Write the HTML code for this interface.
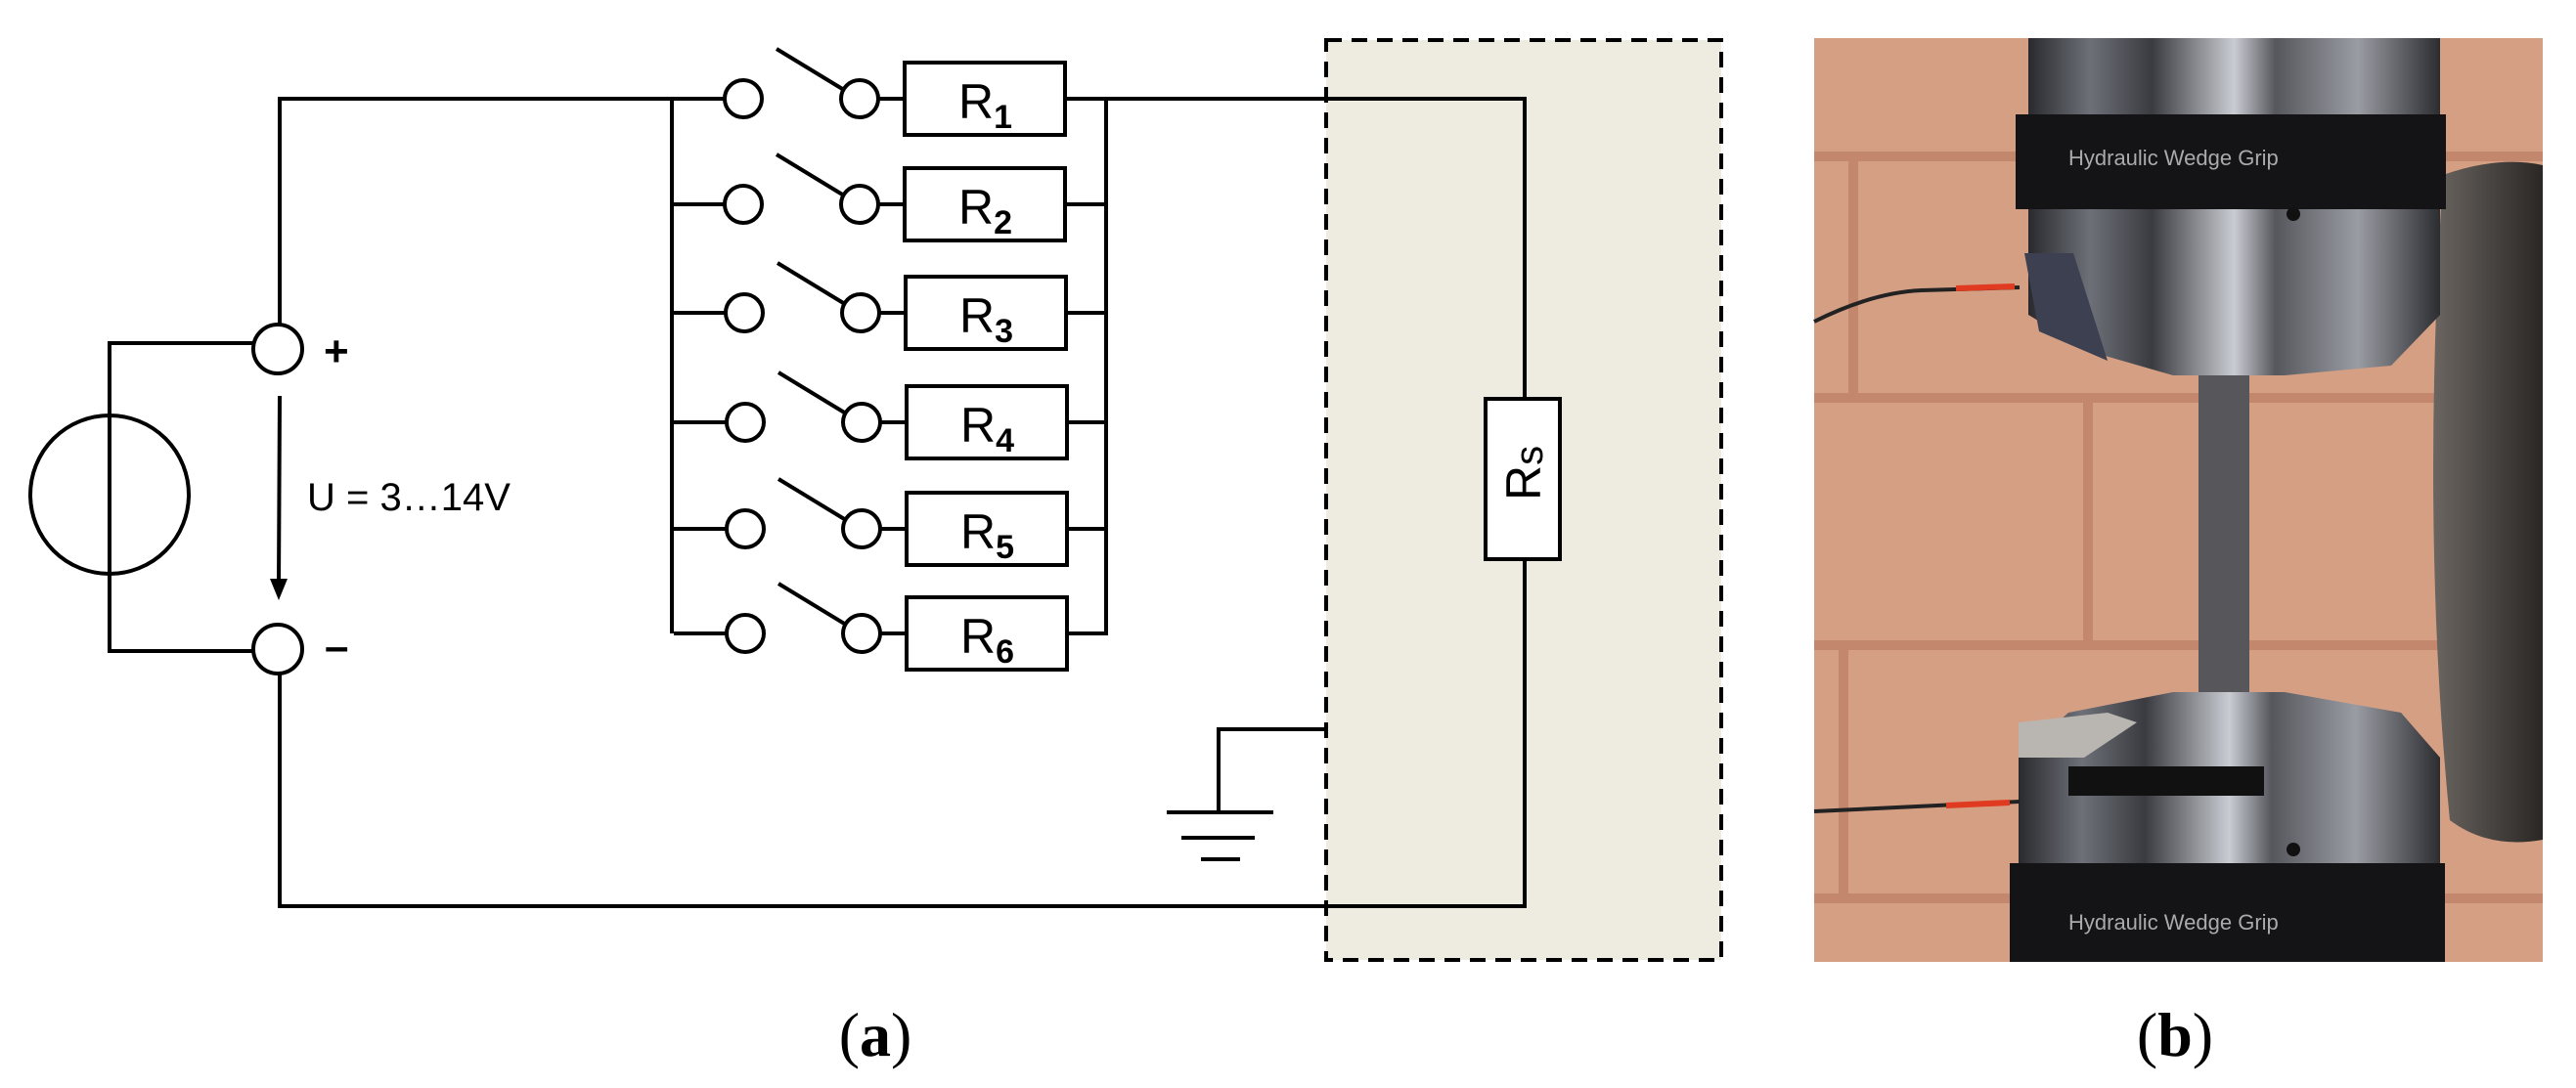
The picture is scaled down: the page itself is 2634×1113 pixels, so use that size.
<!DOCTYPE html>
<html><head><meta charset="utf-8"><style>
html,body{margin:0;padding:0;background:#fff;}
svg{display:block;}
</style></head><body>
<svg width="2634" height="1113" viewBox="0 0 2634 1113" xmlns="http://www.w3.org/2000/svg">
<defs>
<linearGradient id="metal" x1="0" x2="1" y1="0" y2="0">
<stop offset="0" stop-color="#2a2a2e"/><stop offset="0.15" stop-color="#6d7078"/><stop offset="0.3" stop-color="#3a3b40"/><stop offset="0.5" stop-color="#c9ccd2"/><stop offset="0.6" stop-color="#55575d"/><stop offset="0.8" stop-color="#9a9ca3"/><stop offset="1" stop-color="#2c2d31"/>
</linearGradient>
<linearGradient id="blob" x1="0" x2="1"><stop offset="0" stop-color="#6a6560"/><stop offset="0.5" stop-color="#4a4643"/><stop offset="1" stop-color="#2a2725"/></linearGradient>
<g id="row">
<line x1="687" y1="0" x2="741" y2="0"/>
<circle cx="760" cy="0" r="19"/>
<line x1="794" y1="-51" x2="863" y2="-9"/>
<circle cx="879" cy="0" r="19"/>
<line x1="898" y1="0" x2="925" y2="0"/>
<rect x="925" y="-37" width="164" height="74"/>
<line x1="1089" y1="0" x2="1131" y2="0"/>
</g>
</defs>
<g stroke="#000" stroke-width="4" fill="none">
<rect x="1356" y="41" width="404" height="941" fill="#eeebe1" stroke-dasharray="16,10"/>
<circle cx="112" cy="506" r="81" fill="#fff"/>
<polyline points="284,351 112,351 112,666 284,666"/>
<polyline points="286,332 286,101 687,101"/>
<line x1="687" y1="101" x2="687" y2="648"/>
<polyline points="286,689 286,927 1559,927 1559,572"/>
<polyline points="1089,101 1559,101 1559,408"/>
<rect x="1519" y="408" width="76" height="164" fill="#fff"/>
<line x1="1131" y1="101" x2="1131" y2="648"/>
<polyline points="1356,746 1246,746 1246,831"/>
<line x1="1193" y1="831" x2="1302" y2="831"/>
<line x1="1208" y1="857" x2="1283" y2="857"/>
<line x1="1228" y1="879" x2="1268" y2="879"/>
<line x1="286" y1="405" x2="285" y2="600"/>
</g>
<polygon points="276,592 294,592 285,614" fill="#000"/>
<circle cx="284" cy="357" r="25" fill="#fff" stroke="#000" stroke-width="4"/>
<circle cx="284" cy="664" r="25" fill="#fff" stroke="#000" stroke-width="4"/>
<g stroke="#000" stroke-width="4" fill="#fff">
<use href="#row" transform="translate(0,101)"/>
<use href="#row" transform="translate(0,209)"/>
<use href="#row" transform="translate(1,320)"/>
<use href="#row" transform="translate(2,432)"/>
<use href="#row" transform="translate(2,541)"/>
<use href="#row" transform="translate(2,648)"/>
</g>
<g font-family="Liberation Sans, sans-serif" font-size="50" fill="#000">
<text x="980" y="121">R<tspan font-size="34" font-weight="bold" dy="10">1</tspan></text>
<text x="980" y="229">R<tspan font-size="34" font-weight="bold" dy="10">2</tspan></text>
<text x="981" y="340">R<tspan font-size="34" font-weight="bold" dy="10">3</tspan></text>
<text x="982" y="452">R<tspan font-size="34" font-weight="bold" dy="10">4</tspan></text>
<text x="982" y="561">R<tspan font-size="34" font-weight="bold" dy="10">5</tspan></text>
<text x="982" y="668">R<tspan font-size="34" font-weight="bold" dy="10">6</tspan></text>
<text transform="translate(1575,512) rotate(-90)">R<tspan font-size="40" dy="2">s</tspan></text>
<text x="314" y="522" font-size="40">U = 3…14V</text>
<text x="331" y="374" font-size="44" font-weight="bold">+</text>
<text x="332" y="676" font-size="44" font-weight="bold">–</text>
</g>
<g font-family="Liberation Serif, serif" font-size="64" fill="#000" text-anchor="middle">
<text x="895" y="1080">(<tspan font-weight="bold">a</tspan>)</text>
<text x="2224" y="1080">(<tspan font-weight="bold">b</tspan>)</text>
</g>
<g transform="translate(1855,39)">
<rect x="0" y="0" width="745" height="945" fill="#d59f84"/>
<g stroke="#c3876d" stroke-width="10">
<line x1="0" y1="121" x2="745" y2="121"/><line x1="0" y1="368" x2="745" y2="368"/>
<line x1="0" y1="621" x2="745" y2="621"/><line x1="0" y1="880" x2="745" y2="880"/>
<line x1="40" y1="121" x2="40" y2="368"/><line x1="280" y1="368" x2="280" y2="621"/>
<line x1="30" y1="621" x2="30" y2="880"/><line x1="660" y1="368" x2="660" y2="621"/>
</g>
<path d="M643,140 Q700,120 745,130 L745,820 Q690,830 650,800 Q620,500 643,140Z" fill="url(#blob)"/>
<rect x="219" y="0" width="421" height="283" fill="url(#metal)"/>
<rect x="206" y="78" width="440" height="97" fill="#141416"/>
<text x="260" y="130" font-family="Liberation Sans, sans-serif" font-size="22" fill="#aaa">Hydraulic Wedge Grip</text>
<path d="M219,283 L640,283 L590,335 L481,345 L367,345 L280,320Z" fill="url(#metal)"/>
<path d="M215,220 L265,220 L300,330 L230,300Z" fill="#3c4050"/>
<rect x="393" y="345" width="52" height="324" fill="#57565a"/>
<path d="M367,669 L481,669 L600,690 L640,736 L209,736 L260,690Z" fill="url(#metal)"/>
<path d="M209,700 L300,690 L330,700 L240,760 L209,760Z" fill="#b9b6b1"/>
<rect x="209" y="736" width="431" height="209" fill="url(#metal)"/>
<rect x="260" y="745" width="200" height="30" fill="#111"/>
<rect x="200" y="844" width="445" height="101" fill="#141416"/>
<text x="260" y="912" font-family="Liberation Sans, sans-serif" font-size="22" fill="#aaa">Hydraulic Wedge Grip</text>
<circle cx="490" cy="180" r="7" fill="#111"/>
<circle cx="490" cy="830" r="7" fill="#111"/>
<path d="M0,290 Q60,260 110,258 L210,255" stroke="#222" stroke-width="4" fill="none"/>
<line x1="145" y1="256" x2="205" y2="254" stroke="#e03a20" stroke-width="6"/>
<path d="M0,791 L210,781" stroke="#222" stroke-width="4" fill="none"/>
<line x1="135" y1="785" x2="200" y2="782" stroke="#e03a20" stroke-width="6"/>
</g>
</svg>
</body></html>
